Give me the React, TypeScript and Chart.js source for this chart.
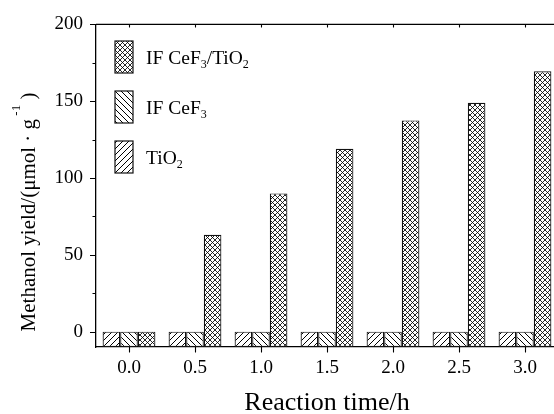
import React, { useEffect, useRef } from "react";
import { Chart, registerables } from "chart.js";

Chart.register(...registerables);

// ---------- data ----------
const categories = ["0.0", "0.5", "1.0", "1.5", "2.0", "2.5", "3.0"];
const tio2Values = [0, 0, 0, 0, 0, 0, 0];
const cef3Values = [0, 0, 0, 0, 0, 0, 0];
const compositeValues = [0, 63, 90, 119, 137.5, 149, 169.5];
const yTicks = [0, 25, 50, 75, 100, 125, 150, 175, 200];
const yLabeledTicks = [0, 50, 100, 150, 200];
const Y_MIN = -10;
const Y_MAX = 200;

type Seg = { t: string; sub?: boolean; sup?: boolean };
const tio2Label: Seg[] = [{ t: "TiO" }, { t: "2", sub: true }];
const cef3Label: Seg[] = [{ t: "IF CeF" }, { t: "3", sub: true }];
const compositeLabel: Seg[] = [
  { t: "IF CeF" },
  { t: "3", sub: true },
  { t: "/TiO" },
  { t: "2", sub: true },
];
const xTitle = "Reaction time/h";
const yTitle: Seg[] = [
  { t: "Methanol yield/(μmol · g" },
  { t: " -1", sup: true },
  { t: " )" },
];

const FONT = '"Liberation Serif", "Times New Roman", Times, serif';

function segFont(s: Seg, size: number) {
  const sz = s.sub || s.sup ? Math.round(size * 0.62) : size;
  return `${sz}px ${FONT}`;
}
function measureRich(ctx: CanvasRenderingContext2D, segs: Seg[], size: number) {
  let w = 0;
  for (const s of segs) {
    ctx.font = segFont(s, size);
    w += ctx.measureText(s.t).width;
  }
  return w;
}
function drawRich(ctx: CanvasRenderingContext2D, segs: Seg[], x: number, y: number, size: number) {
  let cx = x;
  for (const s of segs) {
    ctx.font = segFont(s, size);
    const dy = s.sub ? size * 0.22 : s.sup ? -size * 0.7 : 0;
    ctx.fillText(s.t, cx, y + dy);
    cx += ctx.measureText(s.t).width;
  }
}

type Kind = "fwd" | "back" | "cross";
function makeHatch(kind: Kind, size: number, lw: number): CanvasPattern {
  const c = document.createElement("canvas");
  c.width = size;
  c.height = size;
  const g = c.getContext("2d")!;
  g.fillStyle = "#fff";
  g.fillRect(0, 0, size, size);
  g.strokeStyle = "#000";
  g.lineWidth = lw;
  const fwd = () => {
    g.beginPath();
    g.moveTo(-1, size + 1);
    g.lineTo(size + 1, -1);
    g.moveTo(-2, 2);
    g.lineTo(2, -2);
    g.moveTo(size - 2, size + 2);
    g.lineTo(size + 2, size - 2);
    g.stroke();
  };
  const back = () => {
    g.beginPath();
    g.moveTo(-1, -1);
    g.lineTo(size + 1, size + 1);
    g.moveTo(size - 2, -2);
    g.lineTo(size + 2, 2);
    g.moveTo(-2, size - 2);
    g.lineTo(2, size + 2);
    g.stroke();
  };
  if (kind === "fwd") fwd();
  else if (kind === "back") back();
  else {
    fwd();
    back();
  }
  return g.createPattern(c, "repeat")!;
}

const richLabels = [tio2Label, cef3Label, compositeLabel];

const decorPlugin = {
  id: "decor",
  afterDraw(chart: any) {
    const { ctx, chartArea } = chart;
    const { left, right, top, bottom } = chartArea;
    const x = chart.scales.x;
    const y = chart.scales.y;
    ctx.save();
    ctx.strokeStyle = "#000";
    ctx.lineWidth = 1.3;
    ctx.beginPath();
    ctx.moveTo(left, top);
    ctx.lineTo(right + 5, top);
    ctx.stroke();

    ctx.lineWidth = 1.1;
    ctx.beginPath();
    yTicks.forEach((v) => {
      const p = Math.round(y.getPixelForValue(v)) + 0.5;
      const len = yLabeledTicks.includes(v) ? 6 : 3.5;
      ctx.moveTo(left, p);
      ctx.lineTo(left - len, p);
    });
    categories.forEach((_, i) => {
      const p = Math.round(x.getPixelForValue(i)) + 0.5;
      ctx.moveTo(p, bottom);
      ctx.lineTo(p, bottom + 5.5);
      ctx.moveTo(p, top);
      ctx.lineTo(p, top + 3);
    });
    ctx.stroke();

    // legend (top to bottom: reverse dataset order)
    const ds = chart.data.datasets;
    const rowTops = [41, 91, 141];
    const order = [2, 1, 0];
    order.forEach((di, k) => {
      const bx = 115;
      const by = rowTops[k];
      ctx.fillStyle = ds[di].backgroundColor;
      ctx.fillRect(bx, by, 18, 32);
      ctx.lineWidth = 1.2;
      ctx.strokeStyle = "#111";
      ctx.strokeRect(bx, by, 18, 32);
      ctx.fillStyle = "#000";
      ctx.textAlign = "left";
      ctx.textBaseline = "alphabetic";
      drawRich(ctx, richLabels[di], 146, by + 23, 19.5);
    });

    // y title
    ctx.save();
    ctx.translate(35, 212);
    ctx.rotate(-Math.PI / 2);
    ctx.fillStyle = "#000";
    ctx.textAlign = "left";
    ctx.textBaseline = "alphabetic";
    const w = measureRich(ctx, yTitle, 21);
    drawRich(ctx, yTitle, -w / 2, 0, 21);
    ctx.restore();

    ctx.restore();
  },
};

export default function App() {
  const ref = useRef<HTMLCanvasElement>(null);
  useEffect(() => {
    const canvas = ref.current!;
    const patFwd = makeHatch("fwd", 6, 1);
    const patBack = makeHatch("back", 6, 1);
    const patCross = makeHatch("cross", 5, 0.85);
    const common = {
      borderColor: "#111",
      borderWidth: 1.2,
      borderSkipped: false as const,
      base: Y_MIN,
      barPercentage: 1,
      categoryPercentage: 0.8,
    };
    const chart = new Chart(canvas, {
      type: "bar",
      data: {
        labels: categories,
        datasets: [
          { label: "TiO₂", data: tio2Values, backgroundColor: patFwd as any, ...common },
          { label: "IF CeF₃", data: cef3Values, backgroundColor: patBack as any, ...common },
          { label: "IF CeF₃/TiO₂", data: compositeValues, backgroundColor: patCross as any, ...common },
        ],
      },
      options: {
        responsive: false,
        animation: false,
        layout: { padding: { top: 21, left: 0, right: 0, bottom: 0 } },
        plugins: { legend: { display: false }, tooltip: { enabled: false } },
        scales: {
          x: {
            type: "category",
            offset: true,
            grid: { display: false, drawTicks: false },
            border: { display: true, color: "#000", width: 1.3 },
            ticks: {
              color: "#000",
              font: { family: FONT, size: 19 },
              padding: 10,
              maxRotation: 0,
              autoSkip: false,
            },
            title: {
              display: true,
              text: xTitle,
              color: "#000",
              font: { family: FONT, size: 26, lineHeight: 0.8 },
              padding: 0,
            },
            afterFit: (s: any) => {
              s.height = 67;
            },
          },
          y: {
            min: Y_MIN,
            max: Y_MAX,
            grid: { display: false, drawTicks: false },
            border: { display: true, color: "#000", width: 1.3 },
            afterBuildTicks: (s: any) => {
              s.ticks = yTicks.map((v) => ({ value: v }));
            },
            ticks: {
              color: "#000",
              font: { family: FONT, size: 19 },
              padding: 13,
              autoSkip: false,
              callback: (v: any) => (yLabeledTicks.includes(Number(v)) ? String(v) : ""),
            },
            afterFit: (s: any) => {
              s.width = 96;
            },
          },
        },
      },
      plugins: [decorPlugin],
    });
    return () => chart.destroy();
  }, []);
  return (
    <div
      style={{
        position: "fixed",
        left: 0,
        top: 0,
        width: 554,
        height: 414,
        overflow: "hidden",
        background: "#fff",
      }}
    >
      <canvas ref={ref} width={558} height={414} style={{ width: 558, height: 414, display: "block" }} />
    </div>
  );
}
